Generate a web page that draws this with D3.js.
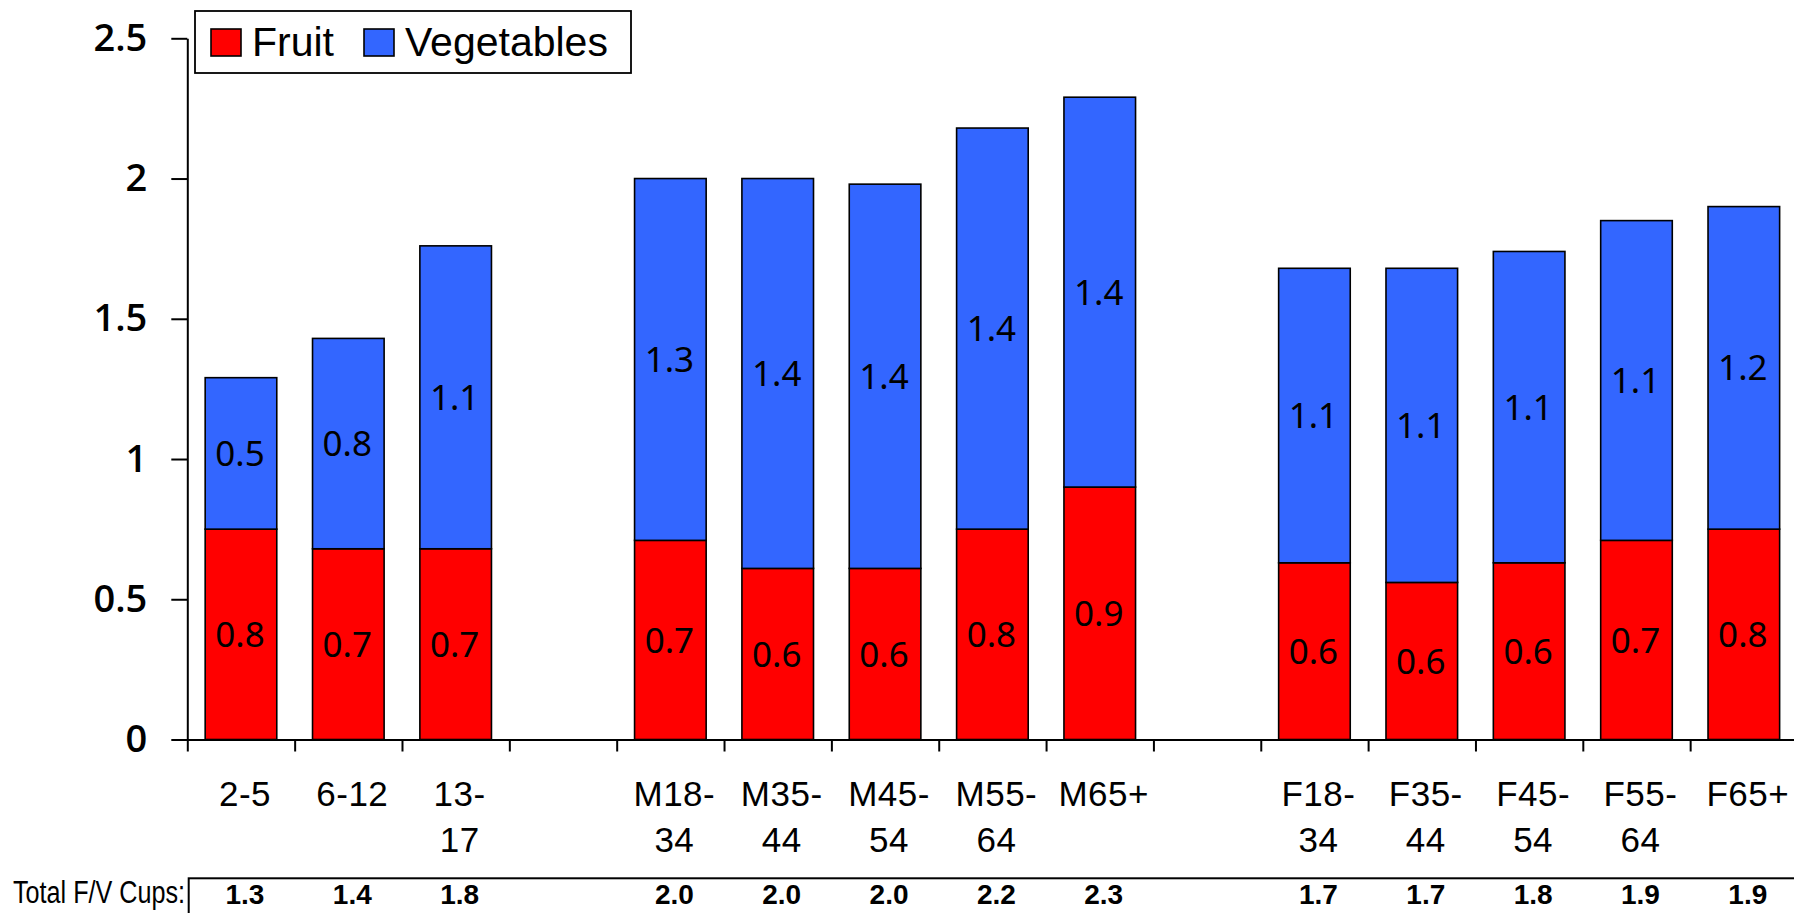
<!DOCTYPE html>
<meta charset="utf-8">
<head>
<style>
body { margin: 0; background: white; }
.tick text { fill: black; }
</style>
</head>
<script src="https://d3js.org/d3.v7.min.js"></script>
<div id="chart"></div>
<script>

// slots along the x axis (gaps are empty slots)
var slots = ["2-5", "6-12", "13-17", "gap1", "M18-34", "M35-44", "M45-54", "M55-64", "M65+",
             "gap2", "F18-34", "F35-44", "F45-54", "F55-64", "F65+"];
var groups = ["2-5", "6-12", "13-17", "M18-34", "M35-44", "M45-54", "M55-64", "M65+",
              "F18-34", "F35-44", "F45-54", "F55-64", "F65+"];
var labelLines = [["2-5"], ["6-12"], ["13-", "17"], ["M18-", "34"], ["M35-", "44"], ["M45-", "54"],
                  ["M55-", "64"], ["M65+"], ["F18-", "34"], ["F35-", "44"], ["F45-", "54"], ["F55-", "64"], ["F65+"]];

// values
var fruit = [0.75, 0.68, 0.68, 0.71, 0.61, 0.61, 0.75, 0.90, 0.63, 0.56, 0.63, 0.71, 0.75];
var veg   = [0.54, 0.75, 1.08, 1.29, 1.39, 1.37, 1.43, 1.39, 1.05, 1.12, 1.11, 1.14, 1.15];
// printed labels
var fruitLabels = ["0.8", "0.7", "0.7", "0.7", "0.6", "0.6", "0.8", "0.9", "0.6", "0.6", "0.6", "0.7", "0.8"];
var vegLabels   = ["0.5", "0.8", "1.1", "1.3", "1.4", "1.4", "1.4", "1.4", "1.1", "1.1", "1.1", "1.1", "1.2"];
var totals      = ["1.3", "1.4", "1.8", "2.0", "2.0", "2.0", "2.2", "2.3", "1.7", "1.7", "1.8", "1.9", "1.9"];

var seriesNames = ["Fruit", "Vegetables"];
var seriesColors = ["#ff0000", "#3366ff"];
var yTicks = [0, 0.5, 1, 1.5, 2, 2.5];

var width = 1794, height = 913;
var x0 = 187.3, x1 = 1797.5, yTop = 38.3, yZero = 739.5;

var svg = d3.select("#chart").append("svg")
  .attr("width", width)
  .attr("height", height);

svg.append("rect").attr("width", width).attr("height", height).attr("fill", "white");

var x = d3.scaleBand()
  .domain(slots)
  .range([x0, x1])
  .paddingInner(0.333)
  .paddingOuter(0.1665);

var xb = d3.scaleLinear().domain([0, slots.length]).range([x0, x1]);

var y = d3.scaleLinear()
  .domain([0, 2.5])
  .range([yZero, yTop]);

// stacked data
var data = groups.map(function(g, i) {
  return { group: g, Fruit: fruit[i], Vegetables: veg[i], i: i };
});
var stack = d3.stack().keys(seriesNames)(data);

var layers = svg.selectAll("g.layer")
  .data(stack)
  .join("g")
    .attr("class", "layer")
    .attr("fill", function(d, i) { return seriesColors[i]; });

layers.selectAll("rect")
  .data(function(d) { return d; })
  .join("rect")
    .attr("x", function(d) { return x(d.data.group); })
    .attr("y", function(d) { return y(d[1]); })
    .attr("width", x.bandwidth())
    .attr("height", function(d) { return y(d[0]) - y(d[1]); })
    .attr("stroke", "black")
    .attr("stroke-width", 1.6);

// segment labels
var segLabels = [fruitLabels, vegLabels];
layers.each(function(layer, li) {
  d3.select(this).selectAll("text")
    .data(layer)
    .join("text")
      .attr("x", function(d) { return x(d.data.group) + x.bandwidth() / 2 - 1; })
      .attr("y", function(d) { return (y(d[0]) + y(d[1])) / 2; })
      .attr("dy", "0.36em")
      .attr("text-anchor", "middle")
      .attr("fill", "black")
      .style("font-family", "'Noto Sans', 'Open Sans', sans-serif")
      .style("font-size", "35px")
      .text(function(d) { return segLabels[li][d.data.i]; });
});

// y axis
var yAxis = svg.append("g")
  .attr("transform", "translate(" + x0 + ",0)")
  .call(d3.axisLeft(y).tickValues(yTicks).tickSize(16).tickPadding(24).tickSizeOuter(0)
        .tickFormat(function(d) { return String(d); }));
yAxis.selectAll("text")
  .style("font-family", "'Open Sans', 'Noto Sans', sans-serif")
  .style("font-size", "38px")
  .style("font-weight", "600");
yAxis.selectAll("line, path").attr("stroke", "black").attr("stroke-width", 2);

// x axis with ticks on slot boundaries
var xAxis = svg.append("g")
  .attr("transform", "translate(0," + yZero + ")")
  .call(d3.axisBottom(xb).tickValues(d3.range(0, slots.length)).tickSize(12).tickSizeOuter(0)
        .tickFormat(""));
xAxis.selectAll("line, path").attr("stroke", "black").attr("stroke-width", 2);

// category labels
var catG = svg.append("g");
catG.selectAll("text")
  .data(groups)
  .join("text")
    .attr("x", function(d) { return x(d) + x.bandwidth() / 2 + 4; })
    .attr("y", 806)
    .attr("text-anchor", "middle")
    .style("font-family", "'Liberation Sans', Arial, sans-serif")
    .style("font-size", "35px")
    .style("letter-spacing", "0.5px")
    .each(function(d, i) {
      var t = d3.select(this);
      labelLines[i].forEach(function(line, k) {
        t.append("tspan")
          .attr("x", x(d) + x.bandwidth() / 2 + 4)
          .attr("dy", k === 0 ? 0 : 45.7)
          .text(line);
      });
    });

// total row
svg.append("text")
  .attr("x", 13)
  .attr("y", 903)
  .attr("textLength", 172)
  .attr("lengthAdjust", "spacingAndGlyphs")
  .style("font-family", "'Liberation Sans', Arial, sans-serif")
  .style("font-size", "31px")
  .text("Total F/V Cups:");

svg.append("rect")
  .attr("x", 188.7)
  .attr("y", 878.3)
  .attr("width", 1620)
  .attr("height", 60)
  .attr("fill", "none")
  .attr("stroke", "black")
  .attr("stroke-width", 2);

svg.append("g").selectAll("text")
  .data(groups)
  .join("text")
    .attr("x", function(d) { return x(d) + x.bandwidth() / 2 + 4; })
    .attr("y", 904)
    .attr("text-anchor", "middle")
    .style("font-family", "'Liberation Sans', Arial, sans-serif")
    .style("font-size", "28px")
    .style("font-weight", "bold")
    .text(function(d, i) { return totals[i]; });

// legend
var legend = svg.append("g");
legend.append("rect")
  .attr("x", 195)
  .attr("y", 11)
  .attr("width", 436)
  .attr("height", 62)
  .attr("fill", "white")
  .attr("stroke", "black")
  .attr("stroke-width", 1.8);

var lx = 211;
seriesNames.forEach(function(name, i) {
  legend.append("rect")
    .attr("x", lx)
    .attr("y", 29)
    .attr("width", 30)
    .attr("height", 27)
    .attr("fill", seriesColors[i])
    .attr("stroke", "black")
    .attr("stroke-width", 1.6);
  var t = legend.append("text")
    .attr("x", lx + 41)
    .attr("y", 56)
    .style("font-family", "'Liberation Sans', Arial, sans-serif")
    .style("font-size", "41px")
    .text(name);
  lx = lx + 41 + t.node().getComputedTextLength() + 30;
});

</script>
